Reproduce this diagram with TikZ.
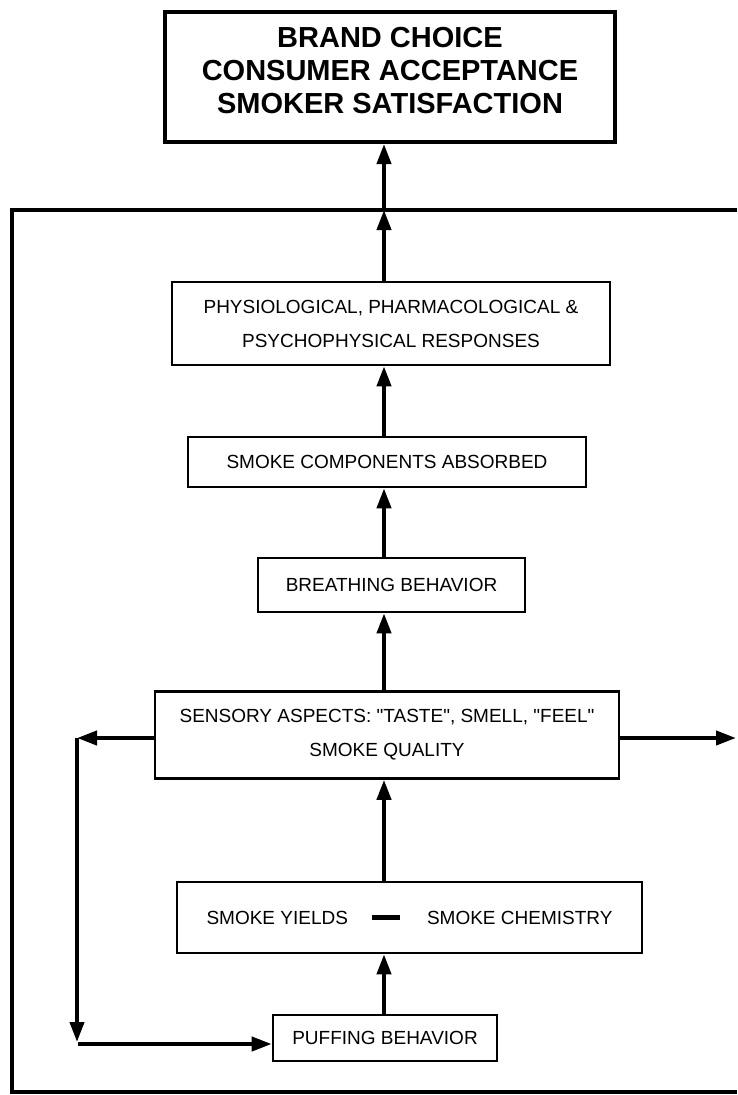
\documentclass[tikz,border=0pt]{standalone}
\usepackage{fontspec}
\setmainfont{Liberation Sans}
\newfontfamily\plainq{Liberation Sans}
\newcommand{\dq}{{\plainq\symbol{34}}}
\usetikzlibrary{arrows.meta}
\begin{document}
\begin{tikzpicture}[x=1pt,y=-1pt,
  box/.style={draw, line width=2.6pt, inner sep=0pt, align=center,
    font=\fontsize{19}{34}\selectfont},
  topbox/.style={draw, line width=4pt, inner sep=0pt},
  toptext/.style={align=center, inner sep=0pt, font=\bfseries\fontsize{29}{33}\selectfont},
  arr/.style={line width=4pt, -{Triangle[length=20pt,width=14pt]}},
  frame/.style={line width=4pt},
]
\useasboundingbox (0,0) rectangle (737,1095);
% boxes
\node[topbox, minimum width=450pt, minimum height=130pt] (top) at (390,77) {};
\node[toptext] (toplabel) at ([yshift=6pt]top.center)
  {BRAND CHOICE\\CONSUMER ACCEPTANCE\\SMOKER SATISFACTION};
\node[box, minimum width=438pt, minimum height=83pt] (phys) at (391,323.5)
  {PHYSIOLOGICAL, PHARMACOLOGICAL \&\\PSYCHOPHYSICAL RESPONSES};
\node[box, minimum width=398pt, minimum height=50pt] (comp) at (387,462)
  {SMOKE COMPONENTS ABSORBED};
\node[box, minimum width=267pt, minimum height=54pt] (breath) at (391.5,585)
  {BREATHING BEHAVIOR};
\node[box, minimum width=464pt, minimum height=87pt] (sens) at (387,735)
  {SENSORY ASPECTS: \dq TASTE\dq, SMELL, \dq FEEL\dq\\SMOKE QUALITY};
\node[box, minimum width=465pt, minimum height=71pt] (yield) at (409.5,917.5)
  {SMOKE YIELDS\hspace{24pt}\rule[4.5pt]{28pt}{5pt}\hspace{27pt}SMOKE CHEMISTRY};
\node[box, minimum width=224pt, minimum height=46pt] (puff) at (385,1038)
  {PUFFING BEHAVIOR};
% frame
\draw[frame] (737,210) -- (12,210) -- (12,1092) -- (737,1092);
% coordinates
\coordinate (col) at (384,0);
\coordinate (fj) at (384,210);
\coordinate (lt) at (77,738);
\coordinate (lb) at (77,1042);
\coordinate (lb2) at (78,1044);
\coordinate (rt) at (736,738);
% main column arrows
\draw[arr] (puff.north -| col) -- (yield.south -| col);
\draw[arr] (yield.north -| col) -- (sens.south -| col);
\draw[arr] (sens.north -| col) -- (breath.south -| col);
\draw[arr] (breath.north -| col) -- (comp.south -| col);
\draw[arr] (comp.north -| col) -- (phys.south -| col);
\draw[arr] (phys.north -| col) -- (fj);
\draw[arr] (fj) -- (top.south -| col);
% feedback loop
\draw[arr] (sens.west |- lt) -- (lt);
\draw[arr] (lt) -- (lb);
\draw[arr] (lb2) -- (puff.west |- lb2);
\draw[arr] (sens.east |- lt) -- (rt);
\end{tikzpicture}
\end{document}
